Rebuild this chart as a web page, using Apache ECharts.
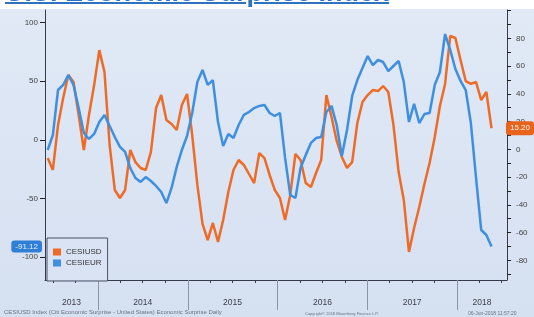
<!DOCTYPE html>
<html lang="en">
<head>
    <meta charset="UTF-8">
    <title>U.S. Economic Surprise Index</title>
    <script type="text/javascript" src="https://cdn.jsdelivr.net/npm/echarts@6/dist/echarts.min.js"></script>
    <style>
        html, body { margin: 0; padding: 0; background: #fff; }
        #wrap {
            position: relative; width: 534px; height: 317px; overflow: hidden;
            background: linear-gradient(#fff 0, #fff 9px, #e1e9f6 9px, #d5e0f1 100%);
        }
        #main { position: absolute; left: 0; top: 0; width: 534px; height: 317px; }
        #title {
            position: absolute; left: 5px; top: -23px; line-height: 27px;
            font: bold 27px "Liberation Sans", Arial, sans-serif; color: #2f72c2;
            text-decoration: underline; text-underline-offset: 1px;
            text-decoration-thickness: 1.5px; white-space: nowrap;
        }
        .foot {
            position: absolute; top: 310px; font: 5px "Liberation Sans", Arial, sans-serif;
            color: #6b7282; white-space: nowrap;
        }
    </style>
</head>
<body>
<div id="wrap">
    <div id="main"></div>
    <div id="title">U.S. Economic Surprise Index</div>
    <div class="foot" style="left:4px;font-size:6px;top:309px;">CESIUSD Index (Citi Economic Surprise - United States) Economic Surprise Daily</div>
    <div class="foot" style="left:305px;font-size:4px;top:311px;">Copyright© 2018 Bloomberg Finance L.P.</div>
    <div class="foot" style="left:468px;">06-Jun-2018 11:57:20</div>
</div>
<script type="text/javascript">
    // CESIUSD (right axis), one reading every 3 weeks
    var usd = [-6.3, -14.9, 17.5, 37.0, 53.5, 48.5, 24.7, -0.5, 24.7, 46.3,
        71.5, 55.7, 3.1, -29.3, -35.1, -29.3, -0.5, -9.2, -13.5, -14.9,
        -1.9, 29.8, 39.1, 21.1, 18.2, 13.9, 31.9, 39.9, 10.3, -25.7,
        -53.8, -65.4, -53.1, -66.8, -51.0, -30.8, -14.9, -7.7, -11.3, -17.8,
        -24.3, -2.7, -6.3, -18.5, -29.3, -35.1, -51.0, -32.9, -3.4, -7.7,
        -24.3, -27.2, -17.1, -7.7, 39.1, 23.3, 6.0, -5.5, -13.5, -9.2,
        19.0, 34.1, 39.1, 42.7, 42.0, 45.6, 41.3, 17.5, -16.4, -36.5,
        -74.0, -56.7, -41.6, -25.0, -9.9, 8.9, 31.2, 47.1, 81.7, 80.2,
        64.4, 49.2, 47.1, 48.5, 35.5, 41.3, 15.2];
    // CESIEUR (left axis)
    var eur = [-8.7, 4.1, 42.5, 46.8, 55.3, 46.8, 27.1, 5.8, 0.7, 5.0,
        15.2, 21.2, 11.8, 2.4, -6.1, -10.4, -24.1, -32.6, -36.0, -31.8,
        -35.2, -39.4, -44.6, -54.0, -41.1, -23.2, -8.7, 3.2, 22.9, 49.3,
        59.6, 46.8, 51.0, 15.2, -5.3, 5.0, 1.5, 12.6, 21.2, 23.7,
        27.1, 28.9, 29.7, 22.9, 20.3, 22.9, -15.5, -47.1, -49.7, -24.1,
        -13.0, -2.7, 1.5, 2.4, 23.7, 28.9, 12.6, -13.8, 8.4, 37.4,
        51.0, 61.3, 71.5, 63.8, 68.1, 66.4, 58.7, 63.0, 67.3, 49.3,
        15.2, 30.6, 14.3, 22.0, 22.9, 46.8, 57.9, 90.3, 76.7, 60.4,
        50.2, 42.5, 14.3, -32.6, -77.0, -81.3, -91.12];

    var firstDay = '2013-06-10';
    var stepDays = 21;
    var xMin = '2013-05-30';
    var xMax = '2018-07-23';
    var yearLabelDays = ['2013-09-15', '2014-07-02', '2015-07-02', '2016-07-02', '2017-07-02', '2018-04-12'];
    var yearStarts = ['2014-01-01', '2015-01-01', '2016-01-01', '2017-01-01', '2018-01-01'];
    var quarterDays = ['2013-07-01', '2013-10-01', '2014-04-01', '2014-07-01', '2014-10-01',
        '2015-04-01', '2015-07-01', '2015-10-01', '2016-04-01', '2016-07-01', '2016-10-01',
        '2017-04-01', '2017-07-01', '2017-10-01', '2018-04-01', '2018-07-01'];
    var leftTicks = [-100, -50, 0, 50, 100];
    var rightTicks = [-80, -60, -40, -20, 0, 20, 40, 60, 80];
    var rightMinor = [-90, -80, -70, -60, -50, -40, -30, -20, -10, 0, 10, 20, 30, 40, 50, 60, 70, 80, 90, 100];

    var t0 = Date.parse(firstDay);
    var dates = usd.map(function (v, i) { return t0 + i * stepDays * 864e5; });
    function toTime(arr) { return arr.map(function (s) { return Date.parse(s); }); }

    var axisColor = '#353b48';
    var labelFont = { fontSize: 8, color: '#444', fontFamily: 'Liberation Sans, Arial, sans-serif' };

    var myChart = echarts.init(document.getElementById('main'));
    var option = {
        animation: false,
        backgroundColor: 'transparent',
        grid: { left: 45, right: 27, top: 10, bottom: 37 },
        legend: {
            data: ['CESIUSD', 'CESIEUR'],
            orient: 'vertical',
            left: 47, top: 238,
            padding: [10, 6, 14, 6],
            itemGap: 3, itemWidth: 8, itemHeight: 7,
            icon: 'rect',
            borderColor: '#4b5568', borderWidth: 1,
            backgroundColor: 'rgba(218,227,243,0.9)',
            textStyle: { fontSize: 8, color: '#333', fontFamily: 'Liberation Sans, Arial, sans-serif' }
        },
        // x values are timestamps on a plain value axis
        xAxis: [{
            type: 'value',
            min: Date.parse(xMin), max: Date.parse(xMax),
            axisLine: { onZero: false, lineStyle: { color: axisColor } },
            axisTick: { customValues: toTime(quarterDays), length: 3, lineStyle: { color: axisColor } },
            axisLabel: {
                customValues: toTime(yearLabelDays), margin: 18,
                fontSize: 8.5, color: '#3a3f4a', fontFamily: 'Liberation Sans, Arial, sans-serif',
                formatter: function (v) { return String(new Date(v).getUTCFullYear()); }
            },
            splitLine: { show: false }
        }, {
            type: 'value',
            position: 'bottom',
            min: Date.parse(xMin), max: Date.parse(xMax),
            axisLine: { show: false, onZero: false },
            axisTick: { customValues: toTime(yearStarts), length: 30, lineStyle: { color: '#8c95a8' } },
            axisLabel: { show: false },
            splitLine: { show: false }
        }],
        yAxis: [{
            type: 'value',
            position: 'left',
            min: -119.7, max: 110.8,
            axisLine: { show: true, lineStyle: { color: axisColor } },
            axisTick: { show: true, customValues: leftTicks, length: 5, lineStyle: { color: '#222' } },
            axisLabel: Object.assign({ customValues: leftTicks, margin: 7 }, labelFont),
            splitLine: { show: false },
            axisPointer: {
                show: true, status: 'show', value: eur[eur.length - 1],
                triggerTooltip: false,
                lineStyle: { opacity: 0 },
                label: {
                    show: true, backgroundColor: '#2f7fd6', color: '#e6eeff',
                    fontSize: 8, padding: [2, 4],
                    formatter: function (p) { return Number(p.value).toFixed(2); }
                }
            }
        }, {
            type: 'value',
            position: 'right',
            min: -94.2, max: 100.4,
            axisLine: { show: true, lineStyle: { color: axisColor } },
            axisTick: { show: true, customValues: rightMinor, length: 4, lineStyle: { color: '#222' } },
            axisLabel: Object.assign({ customValues: rightTicks, margin: 9 }, labelFont),
            splitLine: { show: false },
            axisPointer: {
                show: true, status: 'show', value: usd[usd.length - 1],
                triggerTooltip: false,
                lineStyle: { opacity: 0 },
                label: {
                    show: true, backgroundColor: '#e8631c', color: '#fff3ea',
                    fontSize: 8, padding: [3, 4],
                    formatter: function (p) { return Number(p.value).toFixed(2); }
                }
            }
        }],
        series: [{
            name: 'CESIUSD',
            type: 'line',
            yAxisIndex: 1,
            showSymbol: false,
            color: '#ef6b25',
            lineStyle: { width: 2.5, color: '#ef6b25' },
            data: dates.map(function (d, i) { return [d, usd[i]]; })
        }, {
            name: 'CESIEUR',
            type: 'line',
            yAxisIndex: 0,
            showSymbol: false,
            color: '#3e8fe0',
            lineStyle: { width: 2.5, color: '#3e8fe0' },
            data: dates.map(function (d, i) { return [d, eur[i]]; })
        }]
    };
    myChart.setOption(option);
</script>
</body>
</html>
